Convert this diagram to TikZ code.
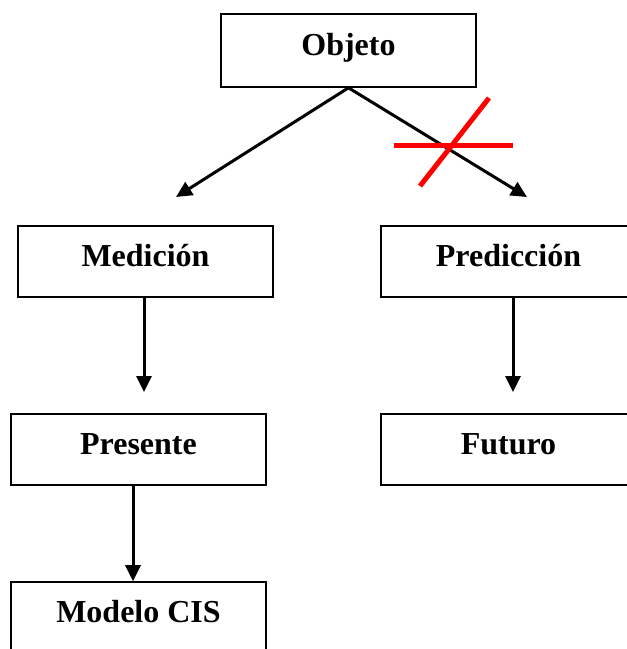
\documentclass[tikz,border=0pt]{standalone}
\usepackage{fontspec}
\setmainfont{Liberation Serif}
\usetikzlibrary{positioning,arrows.meta}

\begin{document}
\begin{tikzpicture}[x=1pt,y=-1pt]
\tikzstyle{every node}+=[inner sep=0pt]
\tikzstyle{caja}=[draw=black, line width=1.6pt, minimum width=255pt, minimum height=71pt, text height=21pt, text depth=12pt, font=\fontsize{32}{38}\selectfont\bfseries]
\tikzstyle{flecha}=[line width=3pt, -{Triangle[width=15pt,length=16pt]}]
\useasboundingbox (0,0) rectangle (627,649);
% cajas
\node [caja, minimum height=73pt] (objeto) at (348.5,50.5) {Objeto};
\node [caja] (medicion) at (145.5,261.5) {Medición};
\node [caja] (prediccion) at (508.5,261.5) {Predicción};
\node [caja] (presente) at (138.5,449.5) {Presente};
\node [caja] (futuro) at (508.5,449.5) {Futuro};
\node [caja] (modelo) at (138.5,617.5) {Modelo CIS};
% puntas libres
\coordinate (pmed) at (176,197);
\coordinate (ppred) at (527,197);
\coordinate (pmed2) at (144,392);
\coordinate (ppred2) at (513,392);
% flechas
\draw [flecha] (objeto.south) -- (pmed);
\draw [flecha] (objeto.south) -- (ppred);
\draw [flecha] (medicion.south -| pmed2) -- (pmed2);
\draw [flecha] (prediccion.south -| ppred2) -- (ppred2);
\draw [flecha] ([xshift=-5.5pt]presente.south) -- ([xshift=-5.5pt]modelo.north);
% cruz
\draw [red, line width=5pt] (394,145) -- (513,145);
\draw [red, line width=5pt] (420,186) -- (489,98);
\end{tikzpicture}
\end{document}
